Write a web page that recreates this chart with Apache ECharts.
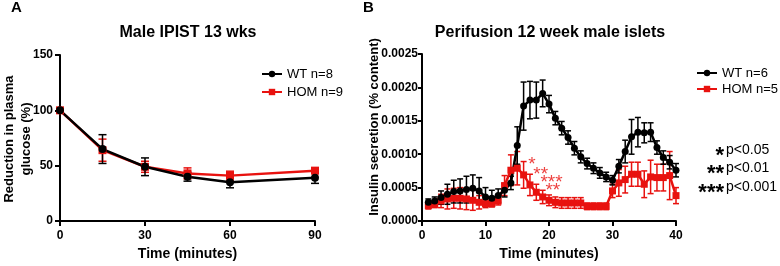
<!DOCTYPE html>
<html>
<head>
<meta charset="utf-8">
<script src="https://cdn.jsdelivr.net/npm/echarts@6/dist/echarts.min.js"></script>
<style>
  html, body { margin: 0; padding: 0; background: #fff; }
  #main { width: 780px; height: 266px; }
</style>
</head>
<body>
<div id="main"></div>
<script>
// panel A : IPIST
var tA = [0, 15, 30, 45, 60, 90];
var wtA = [100, 65, 49, 40, 35, 39];
var wtAErr = [0, 13, 8, 4, 5, 5];
var homA = [100, 64, 49, 43, 41, 45.5];
var homAErr = [0, 10, 5, 5, 4, 2.5];

// panel B : perifusion
var tB = [1, 2, 3, 4, 5, 6, 7, 8, 9, 10, 11, 12, 13, 14, 15, 16, 17, 18, 19, 20,
          21, 22, 23, 24, 25, 26, 27, 28, 29, 30, 31, 32, 33, 34, 35, 36, 37, 38, 39, 40];
var wtB = [0.00028, 0.00030, 0.00035, 0.00040, 0.00044, 0.00045, 0.00047, 0.00049, 0.00045, 0.00036,
           0.00034, 0.00038, 0.00046, 0.00057, 0.00113, 0.00172, 0.00181, 0.00181, 0.00191, 0.00175,
           0.00154, 0.00139, 0.00125, 0.00109, 0.00096, 0.00086, 0.00079, 0.00072, 0.00066, 0.00061,
           0.00082, 0.00104, 0.00126, 0.00133, 0.00132, 0.00133, 0.00110, 0.00095, 0.00088, 0.00076];
var wtBErr = [0.00005, 0.00006, 0.0001, 0.00015, 0.00017, 0.00018, 0.0002, 0.0002, 0.0002, 0.00014,
              0.00012, 0.0001, 0.0001, 0.0001, 0.00028, 0.00036, 0.00028, 0.00027, 0.0002, 0.00013,
              0.0001, 0.0001, 0.0001, 0.0001, 0.00009, 0.00008, 0.00008, 0.00008, 0.00007, 0.00007,
              0.0001, 0.00017, 0.00026, 0.00022, 0.00015, 0.00014, 0.0001, 0.0001, 0.0001, 0.0001];
var homB = [0.00023, 0.00025, 0.00030, 0.00033, 0.00034, 0.00034, 0.00033, 0.00031, 0.00028, 0.00026,
            0.00026, 0.00030, 0.00053, 0.00076, 0.00079, 0.00069, 0.00054, 0.00043, 0.00036, 0.00031,
            0.00028, 0.00027, 0.00027, 0.00027, 0.00027, 0.00022, 0.00022, 0.00022, 0.00022, 0.00045,
            0.00057, 0.00062, 0.00070, 0.00070, 0.00055, 0.00066, 0.00065, 0.00065, 0.00068, 0.00038];
var homBErr = [0.00005, 0.00005, 0.0001, 0.00015, 0.00015, 0.00016, 0.00016, 0.00015, 0.0001, 0.00006,
               0.00005, 0.00006, 0.00015, 0.00023, 0.00025, 0.0002, 0.00016, 0.00012, 0.0001, 0.00008,
               0.00008, 0.00008, 0.00008, 0.00008, 0.00008, 0.00005, 0.00005, 0.00005, 0.00005, 0.0001,
               0.0002, 0.0002, 0.00018, 0.00018, 0.0002, 0.00025, 0.0002, 0.0002, 0.00036, 0.00012];

// significance stars drawn over panel B (time, value, text)
var sigMarks = [[17.3, 0.00092, '*'], [18.7, 0.00077, '**'], [20.4, 0.00064, '***'], [20.6, 0.00053, '**']];

var FONT = 'Liberation Sans, Arial, sans-serif';
var RED = '#e8120f';

var myChart = echarts.init(document.getElementById('main'));

function pairs(xs, ys) {
  return xs.map(function (x, i) { return [x, ys[i]]; });
}

// 에러바 (custom series)
function errBars(xs, ys, es, color, idx, capW) {
  return {
    type: 'custom',
    xAxisIndex: idx,
    yAxisIndex: idx,
    silent: true,
    encode: { x: 0, y: [1, 2] },
    data: xs.map(function (x, i) { return [x, ys[i] - es[i], ys[i] + es[i]]; }),
    renderItem: function (params, api) {
      var lo = api.coord([api.value(0), api.value(1)]);
      var hi = api.coord([api.value(0), api.value(2)]);
      var st = { stroke: color, lineWidth: 1.5 };
      return {
        type: 'group',
        children: [
          { type: 'line', shape: { x1: lo[0], y1: lo[1], x2: hi[0], y2: hi[1] }, style: st },
          { type: 'line', shape: { x1: lo[0] - capW, y1: lo[1], x2: lo[0] + capW, y2: lo[1] }, style: st },
          { type: 'line', shape: { x1: hi[0] - capW, y1: hi[1], x2: hi[0] + capW, y2: hi[1] }, style: st }
        ]
      };
    }
  };
}

var axisBase = {
  axisLine: { lineStyle: { color: '#000', width: 2 } },
  axisTick: { length: 5, lineStyle: { color: '#000', width: 2 } },
  axisLabel: { color: '#000', fontFamily: FONT, fontWeight: 'bold', fontSize: 12 },
  splitLine: { show: false }
};

function xAxis(idx, max, interval) {
  return Object.assign({}, axisBase, {
    type: 'value', gridIndex: idx, min: 0, max: max, interval: interval,
    name: 'Time (minutes)', nameLocation: 'middle', nameGap: 26,
    nameTextStyle: { color: '#000', fontFamily: FONT, fontWeight: 'bold', fontSize: 14 },
    axisLabel: Object.assign({}, axisBase.axisLabel, { margin: 9 })
  });
}

var option = {
  animation: false,
  title: [
    { text: 'Male IPIST 13 wks', left: 183, top: 20, textAlign: 'center',
      textStyle: { fontFamily: FONT, fontWeight: 'bold', fontSize: 16, color: '#000' } },
    { text: 'Perifusion 12 week male islets', left: 545, top: 20, textAlign: 'center',
      textStyle: { fontFamily: FONT, fontWeight: 'bold', fontSize: 16, color: '#000' } }
  ],
  legend: [
    { data: ['WT n=8', 'HOM n=9'], orient: 'vertical', left: 256, top: 62, itemGap: 4,
      itemWidth: 20, itemHeight: 8,
      textStyle: { fontFamily: FONT, fontSize: 13, color: '#000', lineHeight: 14 } },
    { data: ['WT n=6', 'HOM n=5'], orient: 'vertical', left: 691, top: 61, itemGap: 2,
      itemWidth: 20, itemHeight: 8,
      textStyle: { fontFamily: FONT, fontSize: 13, color: '#000', lineHeight: 14 } }
  ],
  grid: [
    { left: 60, top: 55, width: 255, height: 169 },
    { left: 422, top: 54, width: 254, height: 170 }
  ],
  xAxis: [xAxis(0, 90, 30), xAxis(1, 40, 10)],
  yAxis: [
    Object.assign({}, axisBase, { type: 'value', gridIndex: 0, min: 0, max: 150, interval: 50,
      axisLabel: Object.assign({}, axisBase.axisLabel, { margin: 7 }) }),
    Object.assign({}, axisBase, { type: 'value', gridIndex: 1, min: 0, max: 0.0025, interval: 0.0005,
      axisTick: { length: 4, lineStyle: { color: '#000', width: 2 } },
      axisLabel: Object.assign({}, axisBase.axisLabel, { margin: 4,
        formatter: function (v) { return v.toFixed(4); } }) })
  ],
  graphic: [
    { type: 'text', left: 11, top: 0,
      style: { text: 'A', font: 'bold 15px ' + FONT, fill: '#000' } },
    { type: 'text', left: 363, top: 0,
      style: { text: 'B', font: 'bold 15px ' + FONT, fill: '#000' } },
    { type: 'text', x: 18, y: 139, rotation: Math.PI / 2,
      style: { text: 'Reduction in plasma\nglucose (%)', font: 'bold 13px ' + FONT, fill: '#000',
        align: 'center', verticalAlign: 'middle', lineHeight: 17 } },
    { type: 'text', x: 374, y: 127, rotation: Math.PI / 2,
      style: { text: 'Insulin secretion (% content)', font: 'bold 13px ' + FONT, fill: '#000',
        align: 'center', verticalAlign: 'middle' } },
    { type: 'text', x: 724, y: 156, style: { text: '*', font: 'bold 22px ' + FONT, fill: '#000', align: 'right', verticalAlign: 'middle' } },
    { type: 'text', x: 724, y: 174, style: { text: '**', font: 'bold 22px ' + FONT, fill: '#000', align: 'right', verticalAlign: 'middle' } },
    { type: 'text', x: 724, y: 193, style: { text: '***', font: 'bold 22px ' + FONT, fill: '#000', align: 'right', verticalAlign: 'middle' } },
    { type: 'text', x: 726, y: 150, style: { text: 'p<0.05', font: '14px ' + FONT, fill: '#000', verticalAlign: 'middle' } },
    { type: 'text', x: 726, y: 168, style: { text: 'p<0.01', font: '14px ' + FONT, fill: '#000', verticalAlign: 'middle' } },
    { type: 'text', x: 726, y: 187, style: { text: 'p<0.001', font: '14px ' + FONT, fill: '#000', verticalAlign: 'middle' } }
  ],
  series: [
    // A
    errBars(tA, homA, homAErr, RED, 0, 4),
    { name: 'HOM n=9', type: 'line', xAxisIndex: 0, yAxisIndex: 0, data: pairs(tA, homA),
      symbol: 'rect', symbolSize: 8, color: RED, lineStyle: { width: 2.5 } },
    errBars(tA, wtA, wtAErr, '#000', 0, 4),
    { name: 'WT n=8', type: 'line', xAxisIndex: 0, yAxisIndex: 0, data: pairs(tA, wtA),
      symbol: 'circle', symbolSize: 8, color: '#000', lineStyle: { width: 2.5 } },
    // B
    errBars(tB, homB, homBErr, RED, 1, 3),
    { name: 'HOM n=5', type: 'line', xAxisIndex: 1, yAxisIndex: 1, data: pairs(tB, homB),
      symbol: 'rect', symbolSize: 7, color: RED, lineStyle: { width: 2.5 } },
    errBars(tB, wtB, wtBErr, '#000', 1, 3),
    { name: 'WT n=6', type: 'line', xAxisIndex: 1, yAxisIndex: 1, data: pairs(tB, wtB),
      symbol: 'circle', symbolSize: 7, color: '#000', lineStyle: { width: 2.5 } },
    { type: 'scatter', xAxisIndex: 1, yAxisIndex: 1, symbolSize: 0, silent: true,
      data: sigMarks,
      label: { show: true, position: 'inside', offset: [0, 5], color: RED, fontFamily: FONT, fontSize: 19,
        formatter: function (p) { return p.data[2]; } } }
  ]
};

myChart.setOption(option);
</script>
</body>
</html>
